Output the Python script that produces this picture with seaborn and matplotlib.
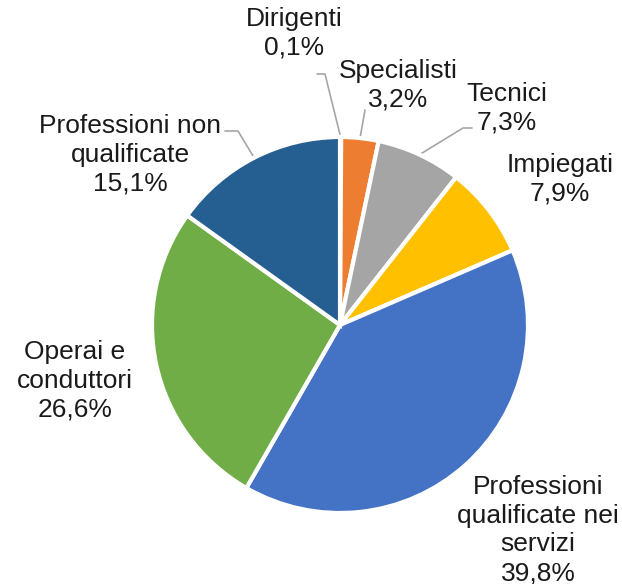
import numpy as np
import matplotlib
matplotlib.use("Agg")
import matplotlib.pyplot as plt
import seaborn as sns

# dati: composizione per gruppo professionale (%)
categorie = ["Dirigenti", "Specialisti", "Tecnici", "Impiegati",
             "Professioni\nqualificate nei\nservizi", "Operai e\nconduttori",
             "Professioni non\nqualificate"]
valori = [0.1, 3.2, 7.3, 7.9, 39.8, 26.6, 15.1]
colori = ["#5B9BD5", "#ED7D31", "#A5A5A5", "#FFC000", "#4472C4", "#70AD47", "#255E91"]

sns.set_theme(style="white")
plt.rcParams['font.family'] = ['Liberation Sans', 'DejaVu Sans']

W, H = 622, 584
cx, cy, r = 340, 325, 188  # centro e raggio della torta in pixel

fig = plt.figure(figsize=(W / 100, H / 100), dpi=100)
ax = fig.add_axes([0, 0, 1, 1])

wedges, _ = ax.pie(valori, colors=colori, startangle=90, counterclock=False,
                   radius=1, wedgeprops=dict(edgecolor='white', linewidth=3))

# limiti impostati dopo pie(), altrimenti vengono sovrascritti
ax.set_xlim(-cx / r, (W - cx) / r)
ax.set_ylim(-(H - cy) / r, cy / r)
ax.set_aspect('equal')
ax.axis('off')


def px(x, y):
    return (x - cx) / r, (cy - y) / r


# posizione delle etichette (pixel) e punto di partenza della linea guida
pos_etichette = [(294, 33), (398, 85), (507, 108), (560, 179),
                 (538, 530), (75, 381), (130, 155)]
linee = {0: [(317, 74), (325, 74)],
         1: [(365, 110)],
         2: [(472, 128), (463, 128)],
         6: [(225, 131), (238, 131)]}

for i, (cat, v) in enumerate(zip(categorie, valori)):
    testo = cat + "\n" + f"{v:.1f}".replace(".", ",") + "%"
    tx, ty = px(*pos_etichette[i])
    ax.text(tx, ty, testo, ha='center', va='center', multialignment='center',
            fontsize=19, color='#1a1a1a', linespacing=1.25)
    if i in linee:
        w = wedges[i]
        mid = np.deg2rad((w.theta1 + w.theta2) / 2)
        pts = [px(*p) for p in linee[i]] + [(np.cos(mid), np.sin(mid))]
        xs, ys = zip(*pts)
        ax.plot(xs, ys, color='#A6A6A6', lw=1.2, zorder=0)

fig.savefig("out.png", dpi=100, facecolor='white')
